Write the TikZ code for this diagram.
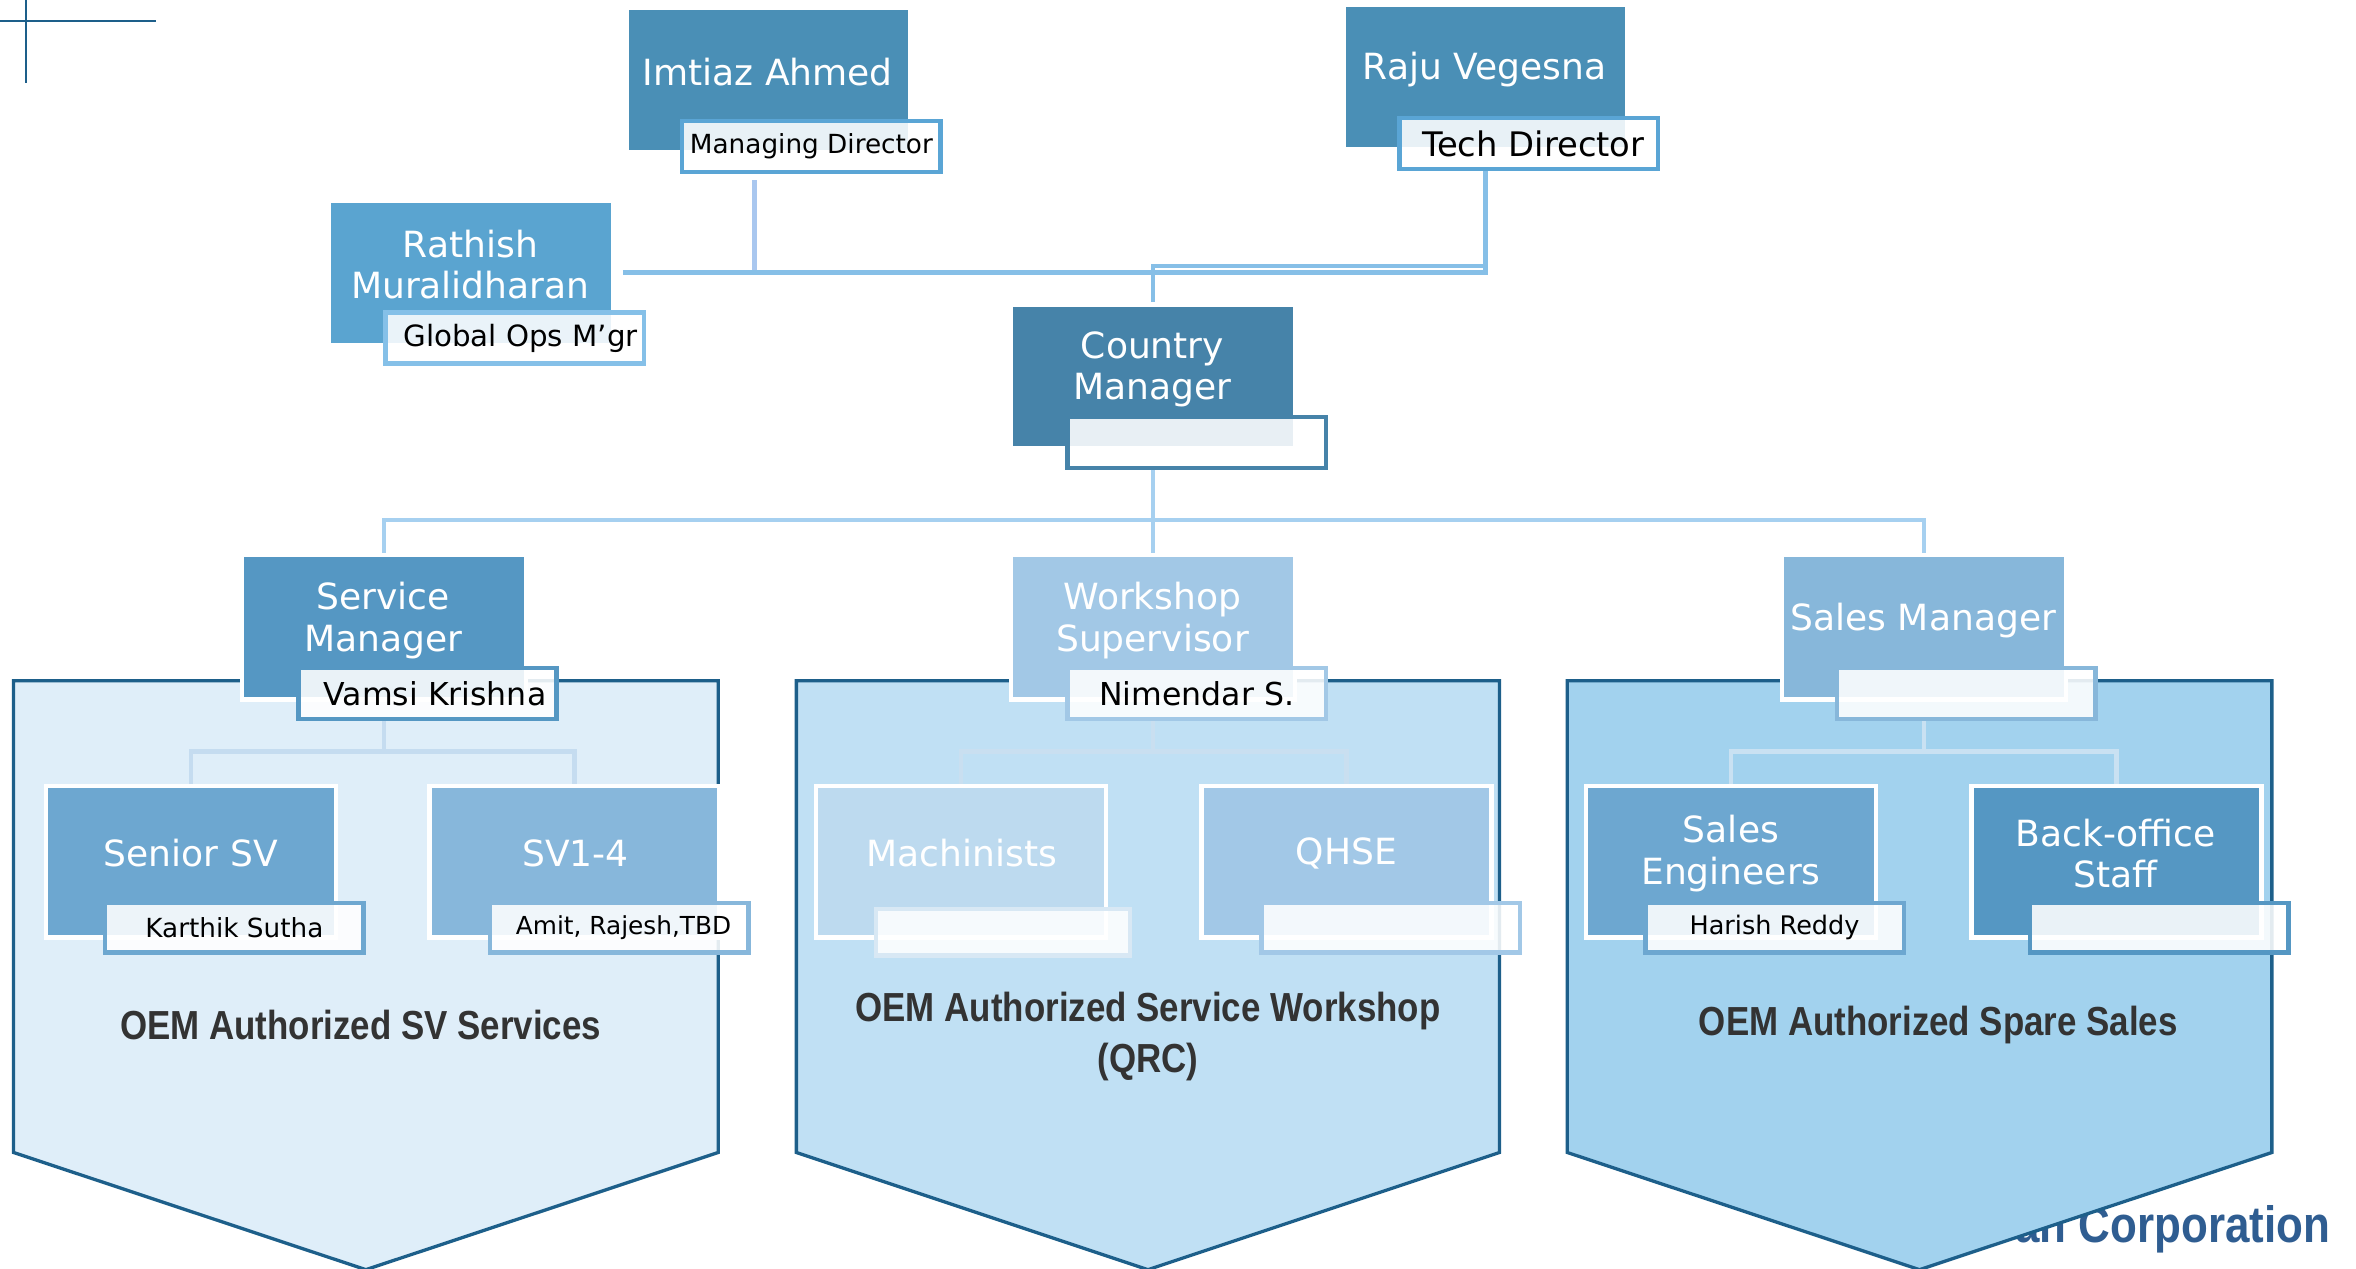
\documentclass[tikz,border=0pt]{standalone}
\usepackage{fontspec}
\setmainfont{DejaVu Sans}
\newfontfamily\condfont[FakeStretch=0.86]{Liberation Sans}
\definecolor{cTop}{HTML}{4A8FB6}
\definecolor{cRat}{HTML}{5AA4D0}
\definecolor{cCty}{HTML}{4683A9}
\definecolor{cSvc}{HTML}{5597C3}
\definecolor{cWsp}{HTML}{A2C8E6}
\definecolor{cSal}{HTML}{87B7DA}
\definecolor{cSen}{HTML}{6DA7D0}
\definecolor{cSvf}{HTML}{87B7DB}
\definecolor{cMac}{HTML}{BDDAEF}
\definecolor{cQhs}{HTML}{A2C8E7}
\definecolor{cLabA}{HTML}{5AA5D5}
\definecolor{cLabG}{HTML}{85C0E8}
\definecolor{cMacL}{HTML}{D8E8F4}
\definecolor{chA}{HTML}{DFEEF9}
\definecolor{chB}{HTML}{C0E0F4}
\definecolor{chC}{HTML}{A2D2EE}
\definecolor{chEdge}{HTML}{1D5F8A}
\definecolor{cnP}{HTML}{A9C7EF}
\definecolor{cnB}{HTML}{86BFE7}
\definecolor{cnL}{HTML}{A6D0F0}
\definecolor{cnA}{HTML}{C5DCF0}
\definecolor{cnW}{HTML}{C9DFF0}
\definecolor{cnS}{HTML}{C9E1F2}
\definecolor{txtDark}{HTML}{333333}
\definecolor{corpBlue}{HTML}{2F5D91}
\begin{document}
\begin{tikzpicture}[x=1pt,y=-1pt,
  box/.style={rectangle, draw=white, line width=3pt, minimum width=189pt, minimum height=96pt, inner sep=0pt},
  kid/.style={rectangle, draw=white, line width=3pt, minimum width=193pt, minimum height=101pt, inner sep=0pt},
  boxtext/.style={text=white, align=center, inner sep=0pt, font=\fontsize{24}{27.5}\selectfont},
  lab/.style={rectangle, line width=3pt, fill=white, fill opacity=0.88, text opacity=1, text=black,
    minimum width=172pt, minimum height=34pt, inner sep=0pt},
  chev/.style={draw=chEdge, line width=2.2pt, line join=miter},
  conn/.style={line width=3pt},
  heading/.style={text=txtDark, align=center, inner sep=0pt,
    font=\condfont\bfseries\fontsize{27}{34}\selectfont},
  cross/.style={draw=chEdge, line width=1.3pt}
]
\useasboundingbox (0,0) rectangle (1568,844);

% corner crosshair
\draw[cross] (17,0) -- (17,55);
\draw[cross] (0,14) -- (104,14);

% partly hidden footer text
\node[anchor=east, text=corpBlue, inner sep=0pt,
  font=\condfont\bfseries\fontsize{34}{34}\selectfont] (corp) at (1551,818) {an Corporation};

% chevron panels
\draw[chev, fill=chA] (9,453) -- (478,453) -- (478,767) -- (243.5,845) -- (9,767) -- cycle;
\draw[chev, fill=chB] (530,453) -- (998,453) -- (998,767) -- (764,845) -- (530,767) -- cycle;
\draw[chev, fill=chC] (1043,453) -- (1512,453) -- (1512,767) -- (1277.5,845) -- (1043,767) -- cycle;

% panel headings
\node[heading] (hA) at (240,682) {OEM Authorized SV Services};
\node[heading] (hB) at (764,690) {OEM Authorized Service Workshop\\(QRC)};
\node[heading] (hC) at (1290,682) {OEM Authorized Spare Sales};

% boxes
\node[box, fill=cTop] (imtiaz) at (511.5,53) {};
\node[box, fill=cTop] (raju) at (988.5,51) {};
\node[box, fill=cRat] (rathish) at (313.5,181.5) {};
\node[box, fill=cCty] (country) at (767.5,250.5) {};
\node[box, fill=cSvc] (svc) at (255.5,417.5) {};
\node[box, fill=cWsp] (workshop) at (767.5,417.5) {};
\node[box, fill=cSal] (sales) at (1280.5,417.5) {};
\node[kid, fill=cSen] (senior) at (127,573.5) {};
\node[kid, fill=cSvf] (svfour) at (382.5,573.5) {};
\node[kid, fill=cMac] (mach) at (639.5,573.5) {};
\node[kid, fill=cQhs] (qhse) at (896,573.5) {};
\node[kid, fill=cSen] (saleng) at (1152,573.5) {};
\node[kid, fill=cSvc] (backoff) at (1408.5,573.5) {};

% connector coordinates
\coordinate (mdfoot) at (502,120);
\coordinate (mdjoin) at (502,180);
\coordinate (upjoin) at (988.5,177);
\coordinate (hub) at (767.5,346);
\coordinate (hubA) at (255.5,500);
\coordinate (hubB) at (767.5,500);
\coordinate (hubC) at (1280.5,500);

% labels
\node[lab, draw=cLabA, font=\fontsize{17.5}{20}\selectfont] (mdlab) at (540,97.5) {Managing Director};
\node[lab, draw=cLabA, font=\fontsize{22.5}{25}\selectfont] (techlab) at (1017.5,95.5) {\hspace*{6pt}Tech Director};
\node[lab, draw=cLabG, font=\fontsize{19.5}{22}\selectfont] (globlab) at (342.5,225) {\hspace*{8pt}Global Ops M’gr};
\node[lab, draw=cCty] (ctylab) at (796.5,294.5) {};
\node[lab, draw=cSvc, font=\fontsize{21}{24}\selectfont] (vamsilab) at (284.5,461.5) {\hspace*{10pt}Vamsi Krishna};
\node[lab, draw=cWsp, font=\fontsize{21}{24}\selectfont] (nimlab) at (796.5,461.5) {Nimendar S.};
\node[lab, draw=cSal] (saleslab) at (1308.5,461.5) {};
\node[lab, draw=cSen, minimum height=33pt, font=\fontsize{17.5}{20}\selectfont] (karlab) at (156,617.5) {Karthik Sutha};
\node[lab, draw=cSvf, minimum height=33pt, font=\fontsize{16.5}{19}\selectfont] (amitlab) at (412,617.5) {\hspace*{6pt}\raisebox{-1.5pt}{Amit, Rajesh,TBD}};
\node[lab, draw=cMacL, minimum width=169pt, minimum height=31pt] (machlab) at (667.5,620.5) {};
\node[lab, draw=cQhs, minimum height=33pt] (qhselab) at (925.5,617.5) {};
\node[lab, draw=cSen, minimum height=33pt, font=\fontsize{17}{20}\selectfont] (harlab) at (1181,617.5) {\raisebox{-1.5pt}{Harish Reddy}};
\node[lab, draw=cSvc, minimum height=33pt] (backlab) at (1437,617.5) {};

% connectors (top)
\draw[conn, cnP] (mdfoot) -- (mdjoin);
\draw[conn, cnB] ([xshift=5pt]rathish.east) -- (rathish.east -| raju) -- (techlab.south -| raju);
\draw[conn, cnB] (upjoin) -- (upjoin -| country) -- (country.north);
% connectors (middle)
\draw[conn, cnL] (ctylab.south -| country) -- (hub) -- (workshop.north);
\draw[conn, cnL] (svc.north) |- (hub) -| (sales.north);
% connectors inside panels
\draw[conn, cnA] (vamsilab.south -| svc) -- (hubA);
\draw[conn, cnA] (senior.north) |- (hubA) -| (svfour.north);
\draw[conn, cnW] (nimlab.south -| workshop) -- (hubB);
\draw[conn, cnW] (mach.north) |- (hubB) -| (qhse.north);
\draw[conn, cnS] (saleslab.south -| sales) -- (hubC);
\draw[conn, cnS] (saleng.north) |- (hubC) -| (backoff.north);

% box texts
\node[boxtext] (imtiazT) at (511,48) {Imtiaz Ahmed};
\node[boxtext] (rajuT) at (988,46) {Raju Vegesna};
\node[boxtext] (rathishT) at (313,176) {Rathish\\Muralidharan};
\node[boxtext] (countryT) at (767,246) {Country\\Manager};
\node[boxtext] (svcT) at (255,413) {Service\\Manager};
\node[boxtext] (workshopT) at (767,413) {Workshop\\Supervisor};
\node[boxtext] (salesT) at (1280,413) {Sales Manager};
\node[boxtext] (seniorT) at (127,568) {Senior SV};
\node[boxtext] (svfourT) at (383,568) {SV1-4};
\node[boxtext] (machT) at (640,568) {Machinists};
\node[boxtext] (qhseT) at (896,568) {QHSE};
\node[boxtext] (salengT) at (1152,568) {Sales\\Engineers};
\node[boxtext] (backoffT) at (1408,568) {Back-office\\Staff};
\end{tikzpicture}
\end{document}
